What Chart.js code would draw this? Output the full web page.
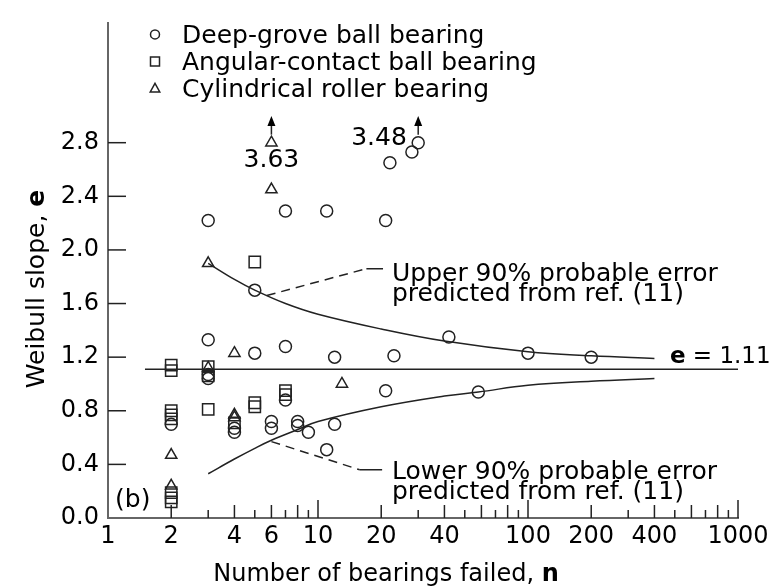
<!DOCTYPE html>
<html lang="en">
<head>
<meta charset="utf-8">
<title>Weibull slope vs. number of bearings failed</title>
<script src="https://cdn.jsdelivr.net/npm/chart.js@4.4.0/dist/chart.umd.min.js"></script>
<style>
  html, body { margin: 0; padding: 0; background: #fff; }
  #wrap { width: 775px; height: 586px; }
</style>
</head>
<body>
<div id="wrap"><canvas id="weibull"></canvas></div>
<script>
// Deep-groove ball bearings (circles)
var grooveN = [2, 3, 3, 3, 3, 4, 4, 5, 5, 6, 6, 7, 7, 7, 8, 8, 9, 11, 11, 12, 12, 21, 21, 22, 23, 28, 30, 42, 58, 100, 200];
var grooveE = [0.70, 2.22, 1.33, 1.07, 1.04, 0.67, 0.64, 1.70, 1.23, 0.72, 0.67, 2.29, 1.28, 0.88, 0.72, 0.69, 0.64, 2.29, 0.51, 1.20, 0.70, 2.22, 0.95, 2.65, 1.21, 2.73, 2.80, 1.35, 0.94, 1.23, 1.20];

// Angular-contact ball bearings (squares)
var angularN = [2, 2, 2, 2, 2, 2, 2, 2, 3, 3, 3, 4, 5, 5, 5, 7, 7];
var angularE = [1.14, 1.10, 0.80, 0.77, 0.74, 0.19, 0.15, 0.12, 1.13, 1.06, 0.81, 0.71, 1.91, 0.86, 0.83, 0.95, 0.92];

// Cylindrical roller bearings (triangles)
var rollerN = [2, 2, 3, 3, 4, 4, 4, 6, 6, 13];
var rollerE = [0.47, 0.24, 1.90, 1.12, 1.23, 0.77, 0.75, 2.80, 2.45, 1.00];

// 90% probable error bands (ref. 11)
var upperN = [3, 4, 5, 7, 10, 20, 40, 100, 200, 400];
var upperE = [1.90, 1.78, 1.70, 1.60, 1.52, 1.41, 1.32, 1.24, 1.21, 1.19];
var lowerN = [3, 4, 5, 6, 8, 10, 20, 40, 58, 100, 200, 400];
var lowerE = [0.33, 0.44, 0.52, 0.58, 0.66, 0.72, 0.83, 0.91, 0.94, 0.99, 1.02, 1.04];

// mean slope e = 1.11
var meanN = [1.5, 1000];
var meanE = [1.11, 1.11];

// leader lines to the band captions
var upperLeadN = [5.7, 17, 20.4];
var upperLeadE = [1.66, 1.86, 1.86];
var lowerLeadN = [6, 15.8, 20.2];
var lowerLeadE = [0.57, 0.36, 0.36];

// off-scale points (true value shown with arrow)
var offN = [6, 30];
var offLabel = ['3.63', '3.48'];

// axes
var ticksX = [1, 2, 3, 4, 5, 6, 7, 8, 9, 10, 20, 30, 40, 50, 60, 70, 80, 90, 100, 200, 300, 400, 500, 600, 700, 800, 900, 1000];
var labelsX = [1, 2, 4, 6, 10, 20, 40, 100, 200, 400, 1000];
var ticksY = [0, 0.4, 0.8, 1.2, 1.6, 2.0, 2.4, 2.8];

function pts(xs, ys) {
  var out = [];
  for (var i = 0; i < xs.length; i++) out.push({x: xs[i], y: ys[i]});
  return out;
}

var FONT = "'DejaVu Sans', sans-serif";
var INK = '#000';

function mark(ctx, style, x, y, r) {
  ctx.beginPath();
  if (style === 'circle') {
    ctx.arc(x, y, r, 0, Math.PI * 2);
  } else if (style === 'rect') {
    ctx.rect(x - r, y - r, 2 * r, 2 * r);
  } else {
    ctx.moveTo(x, y - r);
    ctx.lineTo(x + r * 0.95, y + r * 0.7);
    ctx.lineTo(x - r * 0.95, y + r * 0.7);
    ctx.closePath();
  }
  ctx.stroke();
}

var decor = {
  id: 'decor',
  afterDraw: function(chart) {
    var ctx = chart.ctx, xs = chart.scales.x, ys = chart.scales.y, a = chart.chartArea;
    ctx.save();
    ctx.strokeStyle = '#222';
    ctx.lineWidth = 1.5;

    // inward tick marks
    ticksX.forEach(function(v) {
      if (v === 1) return;
      var m = v / Math.pow(10, Math.floor(Math.log10(v) + 1e-9));
      var len = Math.abs(m - 1) < 1e-6 ? 18 : (Math.round(m) % 2 === 0 ? 13 : 8);
      var px = xs.getPixelForValue(v);
      ctx.beginPath(); ctx.moveTo(px, a.bottom); ctx.lineTo(px, a.bottom - len); ctx.stroke();
    });
    ticksY.forEach(function(v) {
      if (v === 0) return;
      var py = ys.getPixelForValue(v);
      ctx.beginPath(); ctx.moveTo(a.left, py); ctx.lineTo(a.left + 18, py); ctx.stroke();
    });

    // arrows for off-scale points
    ctx.fillStyle = INK;
    offN.forEach(function(n) {
      var px = xs.getPixelForValue(n);
      var y0 = ys.getPixelForValue(2.86), y1 = ys.getPixelForValue(3.0);
      ctx.beginPath(); ctx.moveTo(px, y0); ctx.lineTo(px, y1 + 8); ctx.stroke();
      ctx.beginPath(); ctx.moveTo(px, y1); ctx.lineTo(px + 4, y1 + 10); ctx.lineTo(px - 4, y1 + 10); ctx.closePath(); ctx.fill();
    });

    ctx.fillStyle = INK;
    ctx.textBaseline = 'alphabetic';
    ctx.font = '25px ' + FONT;
    ctx.textAlign = 'center';
    ctx.fillText(offLabel[0], xs.getPixelForValue(6), ys.getPixelForValue(2.62));
    ctx.textAlign = 'right';
    ctx.fillText(offLabel[1], xs.getPixelForValue(26.5), ys.getPixelForValue(2.78));

    // band captions
    ctx.textAlign = 'left';
    var cx = xs.getPixelForValue(22.5);
    ctx.fillText('Upper 90% probable error', cx, ys.getPixelForValue(1.767));
    ctx.fillText('predicted from ref. (11)', cx, ys.getPixelForValue(1.62));
    ctx.fillText('Lower 90% probable error', cx, ys.getPixelForValue(0.29));
    ctx.fillText('predicted from ref. (11)', cx, ys.getPixelForValue(0.14));
    ctx.fillText('(b)', xs.getPixelForValue(1.08), ys.getPixelForValue(0.08));

    // e = 1.11
    var ex = xs.getPixelForValue(474), ey = ys.getPixelForValue(1.16);
    ctx.font = 'bold 23px ' + FONT;
    ctx.fillText('e', ex, ey);
    var w = ctx.measureText('e').width;
    ctx.font = '23px ' + FONT;
    ctx.fillText(' = 1.11', ex + w, ey);

    // legend
    ctx.font = '25px ' + FONT;
    var items = [['circle', 'Deep-grove ball bearing', 4.5], ['rect', 'Angular-contact ball bearing', 4.5], ['tri', 'Cylindrical roller bearing', 5]];
    items.forEach(function(it, i) {
      var yy = a.top + 11 + i * 27;
      mark(ctx, it[0], a.left + 47, yy, it[2]);
      ctx.fillText(it[1], a.left + 74, yy + 9);
    });

    // axis titles
    ctx.textAlign = 'left';
    ctx.font = '24px ' + FONT;
    var t1 = 'Number of bearings failed, ';
    var w1 = ctx.measureText(t1).width;
    ctx.font = 'bold 24px ' + FONT;
    var w2 = ctx.measureText('n').width;
    var sx = 386 - (w1 + w2) / 2;
    ctx.font = '24px ' + FONT;
    ctx.fillText(t1, sx, 581);
    ctx.font = 'bold 24px ' + FONT;
    ctx.fillText('n', sx + w1, 581);

    ctx.save();
    ctx.translate(44, 289);
    ctx.rotate(-Math.PI / 2);
    ctx.font = '25px ' + FONT;
    var t2 = 'Weibull slope, ';
    var w3 = ctx.measureText(t2).width;
    ctx.font = 'bold 25px ' + FONT;
    var w4 = ctx.measureText('e').width;
    ctx.font = '25px ' + FONT;
    ctx.fillText(t2, -(w3 + w4) / 2, 0);
    ctx.font = 'bold 25px ' + FONT;
    ctx.fillText('e', -(w3 + w4) / 2 + w3, 0);
    ctx.restore();

    ctx.restore();
  }
};

var markStyle = {showLine: false, pointBackgroundColor: 'rgba(0,0,0,0)', pointBorderColor: '#222', pointBorderWidth: 1.5};
var lineStyle = {showLine: true, pointRadius: 0, borderColor: '#222', borderWidth: 1.5, fill: false};

new Chart(document.getElementById('weibull'), {
  type: 'scatter',
  data: {
    datasets: [
      Object.assign({label: 'Deep-grove ball bearing', data: pts(grooveN, grooveE), pointStyle: 'circle', pointRadius: 6}, markStyle),
      Object.assign({label: 'Angular-contact ball bearing', data: pts(angularN, angularE), pointStyle: 'rect', pointRadius: 8}, markStyle),
      Object.assign({label: 'Cylindrical roller bearing', data: pts(rollerN, rollerE), pointStyle: 'triangle', pointRadius: 6.5}, markStyle),
      Object.assign({label: 'Upper 90%', data: pts(upperN, upperE), tension: 0.4}, lineStyle),
      Object.assign({label: 'Lower 90%', data: pts(lowerN, lowerE), tension: 0.4}, lineStyle),
      Object.assign({label: 'e = 1.11', data: pts(meanN, meanE)}, lineStyle),
      Object.assign({label: 'upper lead', data: pts(upperLeadN, upperLeadE),
        segment: {borderDash: function(c) { return c.p0DataIndex === 0 ? [9, 6] : []; }}}, lineStyle),
      Object.assign({label: 'lower lead', data: pts(lowerLeadN, lowerLeadE),
        segment: {borderDash: function(c) { return c.p0DataIndex === 0 ? [9, 6] : []; }}}, lineStyle)
    ]
  },
  options: {
    responsive: true,
    maintainAspectRatio: false,
    animation: false,
    events: [],
    layout: {autoPadding: false, padding: {top: 10, right: 37, left: 0, bottom: 0}},
    plugins: {legend: {display: false}, tooltip: {enabled: false}},
    scales: {
      x: {
        type: 'logarithmic',
        min: 1, max: 1000,
        afterBuildTicks: function(s) { s.ticks = ticksX.map(function(v) { return {value: v}; }); },
        afterFit: function(s) { s.height = 68; },
        grid: {display: false, drawTicks: false},
        border: {display: true, color: '#666', width: 2},
        ticks: {
          autoSkip: false, maxRotation: 0, padding: 4, color: INK,
          font: {family: FONT, size: 24},
          callback: function(v) { return labelsX.indexOf(v) >= 0 ? String(v) : ''; }
        }
      },
      y: {
        min: 0, max: 3.69,
        afterBuildTicks: function(s) { s.ticks = ticksY.map(function(v) { return {value: v}; }); },
        afterFit: function(s) { s.width = 108; },
        grid: {display: false, drawTicks: false},
        border: {display: true, color: '#666', width: 2},
        ticks: {
          padding: 9, color: INK,
          font: {family: FONT, size: 24},
          callback: function(v) { return Number(v).toFixed(1); }
        }
      }
    }
  },
  plugins: [decor]
});
</script>
</body>
</html>
